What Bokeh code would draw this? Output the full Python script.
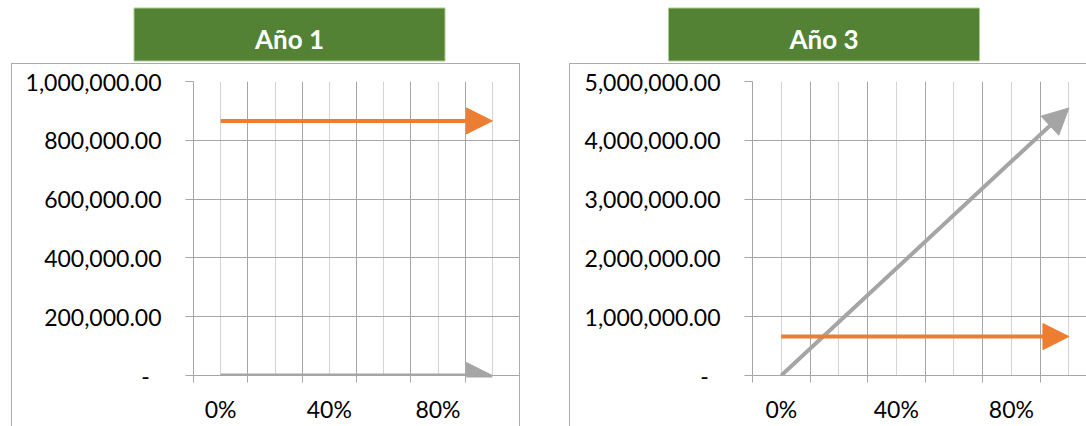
from bokeh.plotting import figure
from bokeh.models import (ColumnDataSource, Arrow, NormalHead, FixedTicker,
                          Label, Range1d, InlineStyleSheet)
from bokeh.layouts import row
from bokeh.embed import file_html
from bokeh.resources import INLINE

# ---------------- data ----------------
panel_titles = ["Año 1", "Año 3"]
x_pct = [0, 100]                      # first / last category (%)

ano1_gray = [0, 0]
ano1_orange = [866000, 866000]
ano3_gray = [0, 4550000]
ano3_orange = [662000, 662000]

ano1_y_ticks = [0, 200000, 400000, 600000, 800000, 1000000]
ano1_y_labels = ["-\u00a0\u00a0", "200,000.00", "400,000.00", "600,000.00",
                 "800,000.00", "1,000,000.00"]
ano3_y_ticks = [0, 1000000, 2000000, 3000000, 4000000, 5000000]
ano3_y_labels = ["-\u00a0\u00a0", "1,000,000.00", "2,000,000.00", "3,000,000.00",
                 "4,000,000.00", "5,000,000.00"]

x_label_ticks = [0, 40, 80]
x_labels = ["0%", "40%", "80%"]
x_major_lines = [-10, 10, 30, 50, 70, 90, 110]
x_minor_lines = [0, 20, 40, 60, 80, 100]

# ---------------- style ----------------
ORANGE = "#ED7D31"
GRAY = "#A5A5A5"
GREEN = "#548235"
GREEN_EDGE = "#A9D08E"
GRID_DARK = "#A6A6A6"
GRID_LIGHT = "#D4D4D4"
BORDER = "#ABABAB"
FONT = "Lato"
H = 426


def make_panel(title, width, f_left, f_right, f_top, f_bottom, x_end, y_max,
               y_ticks, y_labels, gray_vals, orange_vals,
               box_cx, border_css):
    p = figure(width=width, height=H, title=None, tools="",
               x_range=Range1d(-10, x_end), y_range=Range1d(0, y_max),
               output_backend="svg", toolbar_location=None,
               min_border_left=f_left, min_border_right=width - f_right,
               min_border_top=f_top, min_border_bottom=H - f_bottom,
               stylesheets=[InlineStyleSheet(css=border_css)])
    p.outline_line_color = None
    p.background_fill_color = "white"
    p.border_fill_color = "white"

    # grids
    p.xgrid.ticker = FixedTicker(ticks=x_major_lines, minor_ticks=x_minor_lines)
    p.xgrid.grid_line_color = GRID_DARK
    p.xgrid.minor_grid_line_color = GRID_LIGHT
    p.ygrid.ticker = FixedTicker(ticks=y_ticks)
    p.ygrid.grid_line_color = GRID_DARK

    # x axis
    xa = p.xaxis[0]
    xa.ticker = FixedTicker(ticks=x_label_ticks, minor_ticks=x_major_lines)
    xa.major_label_overrides = dict(zip(x_label_ticks, x_labels))
    xa.major_tick_out = 0
    xa.major_tick_in = 0
    xa.minor_tick_out = 7
    xa.minor_tick_in = 0
    xa.minor_tick_line_color = GRID_DARK
    xa.axis_line_color = GRID_DARK
    xa.major_label_standoff = 12
    xa.major_label_text_font = FONT
    xa.major_label_text_font_size = "23px"
    xa.major_label_text_color = "black"

    # y axis
    ya = p.yaxis[0]
    ya.ticker = FixedTicker(ticks=y_ticks)
    ya.major_label_overrides = dict(zip(y_ticks, y_labels))
    ya.major_tick_out = 8
    ya.major_tick_in = 0
    ya.minor_tick_out = 0
    ya.minor_tick_in = 0
    ya.major_tick_line_color = GRID_DARK
    ya.axis_line_color = GRID_DARK
    ya.major_label_standoff = 24
    ya.major_label_text_font = FONT
    ya.major_label_text_font_size = "23px"
    ya.major_label_text_color = "black"

    # green title box (label with padded background, placed in the top panel)
    # padding order: (left, right, top, bottom)
    p.add_layout(Label(x=box_cx, y=34, x_units="canvas", y_units="canvas",
                       text=title, text_align="center", text_baseline="middle",
                       text_font=FONT, text_font_style="bold",
                       text_font_size="26px", text_color="white",
                       background_fill_color=GREEN, border_line_color=GREEN_EDGE,
                       border_line_width=1, padding=(121, 121, 15, 6)), "above")

    # series arrows (gray first, orange on top)
    for vals, col in ((gray_vals, GRAY), (orange_vals, ORANGE)):
        src = ColumnDataSource(dict(x0=[x_pct[0]], y0=[vals[0]],
                                    x1=[x_pct[-1]], y1=[vals[-1]]))
        p.add_layout(Arrow(end=NormalHead(size=26, fill_color=col, line_color=col,
                                          line_width=1),
                           x_start="x0", y_start="y0", x_end="x1", y_end="y1",
                           source=src, line_color=col, line_width=4))
    return p


css1 = (":host { position: relative; } "
        ":host::after { content: ''; position: absolute; left: 11px; top: 63px; "
        "width: 509px; bottom: 0px; border-left: 1px solid #ABABAB; "
        "border-top: 1px solid #ABABAB; border-right: 1px solid #ABABAB; "
        "pointer-events: none; box-sizing: border-box; }")
css3 = (":host { position: relative; } "
        ":host::after { content: ''; position: absolute; left: 24px; top: 63px; "
        "right: 0px; bottom: 0px; border-left: 1px solid #ABABAB; "
        "border-top: 1px solid #ABABAB; pointer-events: none; box-sizing: border-box; }")

p1 = make_panel(panel_titles[0], 545, 193, 519, 80, 377, 110, 1000000,
                ano1_y_ticks, ano1_y_labels, ano1_gray, ano1_orange,
                289, css1)
p3 = make_panel(panel_titles[1], 541, 207, 541, 81, 375, 106.1, 5000000,
                ano3_y_ticks, ano3_y_labels, ano3_gray, ano3_orange,
                278.5, css3)

layout = row(p1, p3, spacing=0)
open("out.html", "w").write(file_html(layout, INLINE))
